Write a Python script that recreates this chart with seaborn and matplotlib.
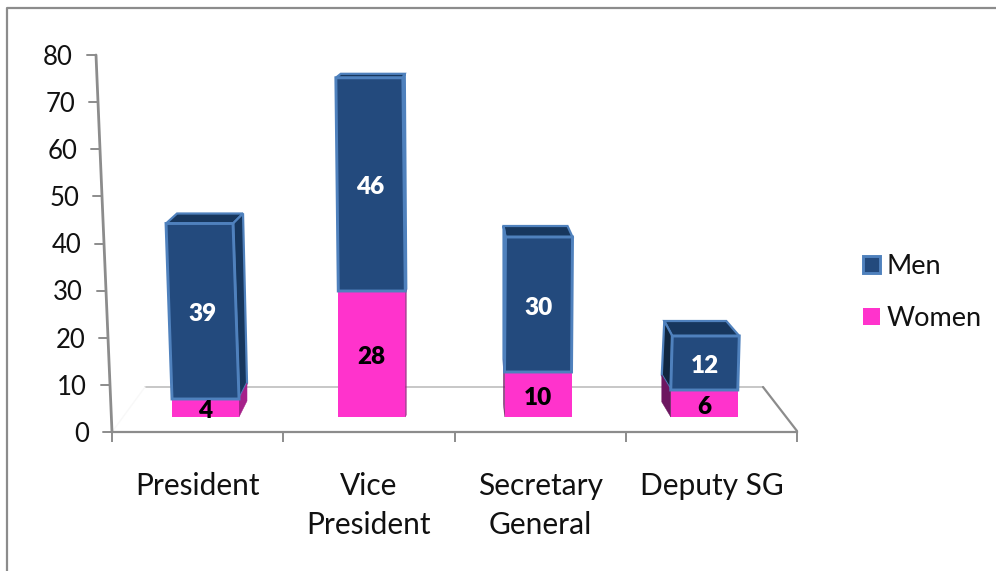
import matplotlib
matplotlib.use("Agg")
import matplotlib.pyplot as plt
from matplotlib.lines import Line2D
from matplotlib.patches import Polygon
from matplotlib.transforms import Affine2D, IdentityTransform
import pandas as pd
import seaborn as sns

# chart values
positions = ["President", "Vice President", "Secretary General", "Deputy SG"]
position_labels = ["President", "Vice\nPresident", "Secretary\nGeneral", "Deputy SG"]
men = [39, 46, 30, 12]
women = [4, 28, 10, 6]
y_ticks = [0, 10, 20, 30, 40, 50, 60, 70, 80]

# fake 3D look, all in pixels
lean = [-6, -2.5, 1, 1.5]
stretch = [1.0, 1.03, 1.0, 1.0]
top_dx_left = [11, 5, -2, -8]
top_dx_right = [10, 2, -5, -13]
top_dy = [10, 4, 11, 15]
base_dx = [8, 1, -1, -9]
base_dy = [16, 2, 13, 15]
side_is_right = [True, True, False, False]

W, H = 996, 571
MEN_COLOR = "#234a7d"
MEN_EDGE = "#4f81bd"
WOMEN_COLOR = "#ff33cc"
GREY = "#8c8c8c"
TEXT_COLOR = "#111111"
FONT_SIZE = 17.5

sns.set_style("white")
plt.rcParams["font.family"] = ["Lato", "DejaVu Sans"]

df = pd.DataFrame({"position": positions, "men": men, "women": women})

fig = plt.figure(figsize=(W / 100, H / 100), dpi=100)


def axes_box(left, right, top, bottom):
    return [left / W, 1 - bottom / H, (right - left) / W, (bottom - top) / H]


def grey_line(xs, ys, color=GREY, lw=1.5):
    # zorder below the axes so the bars cover these lines
    fig.add_artist(Line2D([x / W for x in xs], [1 - y / H for y in ys], color=color, lw=lw, zorder=-1))


# outer chart border, runs off the picture on the right and bottom
grey_line([7, 7, 1000], [575, 8, 8], lw=1.6)

# back wall axes: the value axis and the category axis
ax = fig.add_axes(axes_box(112, 797, 55, 432))
ax.set_xlim(0, 4)
ax.set_ylim(0, 80)
ax.patch.set_visible(False)
sns.despine(ax=ax, left=True)
ax.spines["bottom"].set_color(GREY)
ax.spines["bottom"].set_linewidth(1.6)
ax.set_xticks(range(5))
ax.set_xticklabels([])
ax.set_xticks([0.5, 1.5, 2.5, 3.5], labels=position_labels, minor=True)
ax.tick_params(axis="x", which="major", length=7, width=1.4, color=GREY, bottom=True)
ax.tick_params(axis="x", which="minor", length=0, pad=28.5, labelsize=21.5)
for label in ax.get_xticklabels(minor=True):
    label.set_linespacing(1.5)
    label.set_color(TEXT_COLOR)
ax.set_yticks([])

# value axis leans to the left towards the top
slant = 16 / 685
to_y = ax.get_yaxis_transform()
ax.plot([0, -slant], [0, 80], color=GREY, lw=2, transform=to_y, clip_on=False)
for v in y_ticks:
    xa = -slant * v / 80
    ax.plot([xa - 9 / 685, xa], [v, v], color=GREY, lw=1.4, transform=to_y, clip_on=False)
    ax.text(xa - 23 / 685, v - 0.5, str(v), transform=to_y, ha="right", va="center",
            fontsize=FONT_SIZE + 1, color=TEXT_COLOR)

# floor of the 3D box
grey_line([145, 763], [387, 387], color="#b8b8b8", lw=1.1)
grey_line([763, 797], [387, 431], lw=1.6)
grey_line([112, 145], [432, 387], color="#f8f8f8", lw=1)

# bars
ax_bars = fig.add_axes(axes_box(122.4, 787.4, 57, 417))
ax_bars.patch.set_visible(False)
sns.barplot(data=df, x="position", y="men", bottom=df["women"], color=MEN_COLOR, saturation=1,
            width=0.403, edgecolor=MEN_EDGE, linewidth=2.1, label="Men", ax=ax_bars, zorder=3)
sns.barplot(data=df, x="position", y="women", color=WOMEN_COLOR, saturation=1,
            width=0.403, linewidth=0, label="Women", ax=ax_bars, zorder=2.9)
ax_bars.set_ylim(0, 80)
ax_bars.set_axis_off()

men_bars = ax_bars.containers[0]
women_bars = ax_bars.containers[1]
to_px = ax_bars.transData


def add_face(points, color, edge=None):
    ax_bars.add_patch(Polygon(points, closed=True, facecolor=color, edgecolor=edge or color,
                              lw=1.6 if edge else 0.3, transform=IdentityTransform(),
                              zorder=2, clip_on=False))


for i, (m_bar, w_bar) in enumerate(zip(men_bars, women_bars)):
    x0, y0 = to_px.transform((m_bar.get_x(), m_bar.get_y()))
    x1, y1 = to_px.transform((m_bar.get_x() + m_bar.get_width(), m_bar.get_y() + m_bar.get_height()))
    _, y_floor = to_px.transform((w_bar.get_x(), 0))

    # front face of the men bar is sheared and stretched from its bottom edge
    height = y1 - y0
    y1 = y0 + height * stretch[i]
    shear = lean[i] / (y1 - y0)
    face = (Affine2D().translate(-x0, -y0)
            + Affine2D.from_values(1, 0, shear, stretch[i], 0, 0)
            + Affine2D().translate(x0, y0))
    m_bar.set_transform(to_px + face)
    m_bar.set_clip_on(False)
    w_bar.set_clip_on(False)

    top_l = (x0 + lean[i], y1)
    top_r = (x1 + lean[i], y1)
    add_face([top_l, top_r, (top_r[0] + top_dx_right[i], y1 + top_dy[i]),
              (top_l[0] + top_dx_left[i], y1 + top_dy[i])], "#17375e", MEN_EDGE)

    if side_is_right[i]:
        side_top, side_x, dx_top = top_r, x1, top_dx_right[i]
        men_side, women_side = "#17375e", "#a6218a"
    else:
        side_top, side_x, dx_top = top_l, x0, top_dx_left[i]
        men_side, women_side = "#10263f", "#6d1660"
    add_face([side_top, (side_top[0] + dx_top, y1 + top_dy[i]),
              (side_x + base_dx[i], y0 + base_dy[i]), (side_x, y0)], men_side, MEN_EDGE)
    add_face([(side_x, y0), (side_x + base_dx[i], y0 + base_dy[i]),
              (side_x + base_dx[i], y_floor + base_dy[i]), (side_x, y_floor)], women_side)

# value labels
men_texts = ax_bars.bar_label(men_bars, labels=[str(v) for v in men], label_type="center",
                              color="white", fontweight="heavy", fontsize=FONT_SIZE, zorder=5)
women_texts = ax_bars.bar_label(women_bars, labels=[str(v) for v in women], label_type="center",
                                color="black", fontweight="heavy", fontsize=FONT_SIZE, zorder=5)
for t in men_texts + women_texts:
    t.xyann = (0, -2.2)

legend = ax_bars.legend(frameon=False, loc="upper left",
                        bbox_to_anchor=(855 / W, 1 - 246 / H), bbox_transform=fig.transFigure,
                        fontsize=19.5, handlelength=0.62, handleheight=0.62,
                        handletextpad=0.24, labelspacing=1.0, borderpad=0.3, borderaxespad=0)
for text in legend.get_texts():
    text.set_color(TEXT_COLOR)

fig.savefig("out.png", dpi=100, facecolor="white")
